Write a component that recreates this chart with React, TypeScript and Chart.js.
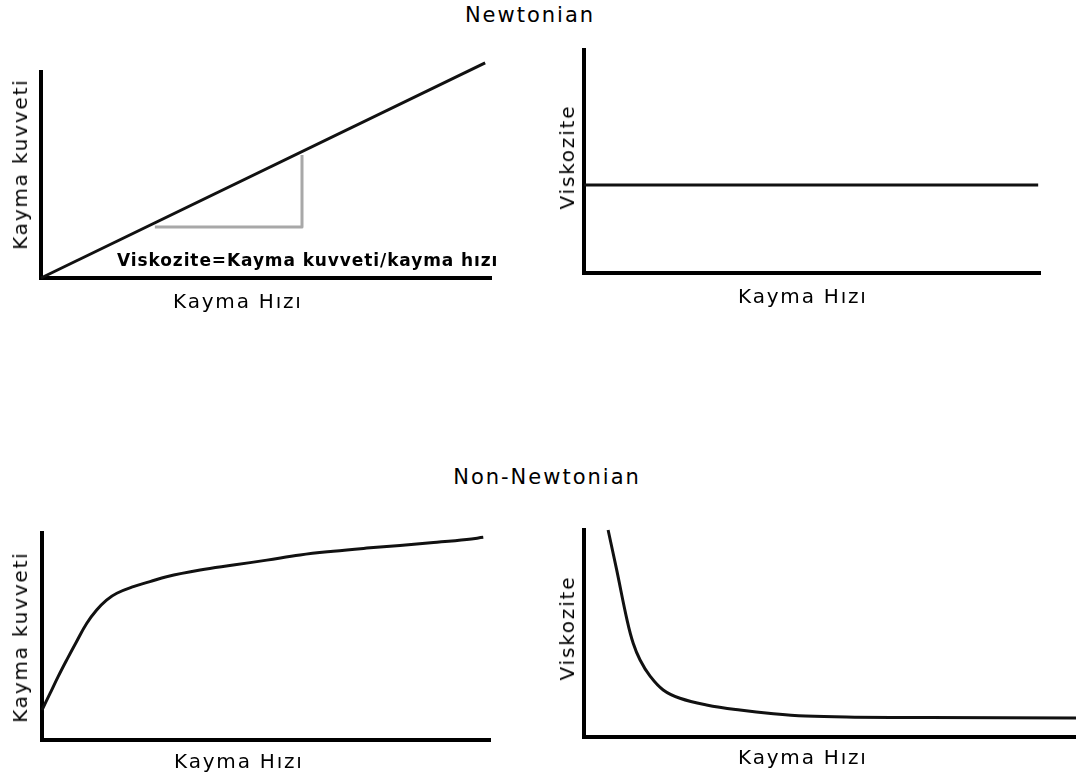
import React, { useEffect, useRef } from 'react';
import { Chart, registerables } from 'chart.js';

Chart.register(...registerables);

// ---------- text ----------
const sectionTitles = ['Newtonian', 'Non-Newtonian'];
const xAxisLabel = 'Kayma Hızı';
const stressLabel = 'Kayma kuvveti';
const viscosityLabel = 'Viskozite';
const slopeNote = 'Viskozite=Kayma kuvveti/kayma hızı';

// ---------- data (arbitrary units, 0..100 on both axes) ----------
// Newtonian: shear stress vs shear rate (straight line)
const newtonStressX = [0, 98.7];
const newtonStressY = [0, 104.4];
// slope triangle under the line
const slopeTriangleX = [25.3, 58, 58];
const slopeTriangleY = [24.8, 24.8, 59.7];
// Newtonian: viscosity vs shear rate (constant)
const newtonViscX = [0, 99.6];
const newtonViscY = [39.5, 39.5];
// Non-Newtonian: shear stress vs shear rate
const nonNewtonStressX = [0, 1.8, 3.6, 5.5, 7.7, 10.0, 12.2, 14.4, 16.7, 20.4, 24.1, 27.8, 35.3, 42.7, 50.2, 57.6, 65.0, 72.5, 79.9, 87.4, 94.8, 98.5];
const nonNewtonStressY = [14.5, 22.5, 30.6, 38.6, 47.5, 56.4, 62.8, 67.6, 70.9, 74.1, 76.5, 78.9, 82.1, 84.5, 86.9, 89.4, 91.2, 92.7, 94.0, 95.4, 96.9, 97.9];
// Non-Newtonian: viscosity vs shear rate
const nonNewtonViscX = [4.9, 6.6, 8.8, 10.0, 11.4, 13.4, 16.1, 19.5, 24.9, 31.7, 38.5, 45.0, 55.0, 70.0, 100];
const nonNewtonViscY = [100, 81.2, 56.0, 45.3, 37.2, 29.5, 22.7, 18.7, 15.5, 13.0, 11.2, 10.1, 9.6, 9.4, 9.2];

const FONT = '"DejaVu Sans", Verdana, sans-serif';

type Series = { xs: number[]; ys: number[]; color: string; width: number; smooth?: boolean };
type Area = { l: number; t: number; r: number; b: number };

const axisOpts = () => ({
  type: 'linear' as const,
  min: 0,
  max: 100,
  display: true,
  grid: { display: false, drawTicks: false },
  ticks: { display: false },
  border: { display: true, color: '#000', width: 4 },
  title: { display: false },
});

function MiniChart({ area, series }: { area: Area; series: Series[] }) {
  const ref = useRef<HTMLCanvasElement>(null);
  const M = 14;
  const w = area.r - area.l + 2 * M;
  const h = area.b - area.t + 2 * M;
  useEffect(() => {
    const chart = new Chart(ref.current!, {
      type: 'line',
      data: {
        datasets: series.map((s) => ({
          data: s.xs.map((x, i) => ({ x, y: s.ys[i] })),
          borderColor: s.color,
          borderWidth: s.width,
          pointRadius: 0,
          fill: false,
          clip: false as any,
          tension: s.smooth ? 0.4 : 0,
          borderCapStyle: 'butt',
          borderJoinStyle: 'round',
        })) as any,
      },
      options: {
        responsive: false,
        animation: false,
        events: [],
        layout: { padding: M },
        plugins: { legend: { display: false }, tooltip: { enabled: false }, title: { display: false } },
        scales: { x: axisOpts(), y: axisOpts() } as any,
      },
    });
    return () => chart.destroy();
  }, []);
  return (
    <canvas
      ref={ref}
      width={w}
      height={h}
      style={{ position: 'absolute', left: area.l - M, top: area.t - M, width: w, height: h }}
    />
  );
}

function Label({
  text, x, y, size, ls, rotate = false, bold = false, left = false,
}: { text: string; x: number; y: number; size: number; ls: number; rotate?: boolean; bold?: boolean; left?: boolean }) {
  return (
    <div
      style={{
        position: 'absolute',
        left: x,
        top: y,
        transform: left ? 'translateY(-50%)' : `translate(-50%,-50%)${rotate ? ' rotate(-90deg)' : ''}`,
        fontFamily: FONT,
        fontSize: size,
        fontWeight: bold ? 'bold' : 'normal',
        letterSpacing: ls,
        paddingLeft: left ? 0 : ls,
        lineHeight: 1,
        whiteSpace: 'nowrap',
        color: '#000',
      }}
    >
      {text}
    </div>
  );
}

export default function App() {
  useEffect(() => {
    document.body.style.margin = '0';
  }, []);
  const black = '#111';
  return (
    <div style={{ position: 'fixed', left: 0, top: 0, width: 1076, height: 780, overflow: 'hidden', background: '#fff' }}>
      <Label text={sectionTitles[0]} x={529} y={15} size={21} ls={2} />
      <Label text={sectionTitles[1]} x={546} y={477} size={21} ls={2} />

      {/* Top-left: Newtonian shear stress */}
      <MiniChart
        area={{ l: 41, t: 72, r: 491, b: 278 }}
        series={[
          { xs: slopeTriangleX, ys: slopeTriangleY, color: '#a8a8a8', width: 3 },
          { xs: newtonStressX, ys: newtonStressY, color: black, width: 3 },
        ]}
      />
      <Label text={stressLabel} x={20} y={165} size={20} ls={1.8} rotate />
      <Label text={xAxisLabel} x={237} y={301} size={20} ls={1.8} />
      <Label text={slopeNote} x={117} y={260} size={17} ls={0.9} bold left />

      {/* Top-right: Newtonian viscosity */}
      <MiniChart
        area={{ l: 584, t: 50, r: 1040, b: 273 }}
        series={[{ xs: newtonViscX, ys: newtonViscY, color: black, width: 3 }]}
      />
      <Label text={viscosityLabel} x={567} y={158} size={20} ls={1.8} rotate />
      <Label text={xAxisLabel} x={802} y={296} size={20} ls={1.8} />

      {/* Bottom-left: Non-Newtonian shear stress */}
      <MiniChart
        area={{ l: 42, t: 533, r: 490, b: 740 }}
        series={[{ xs: nonNewtonStressX, ys: nonNewtonStressY, color: black, width: 3, smooth: true }]}
      />
      <Label text={stressLabel} x={20} y={638} size={20} ls={1.8} rotate />
      <Label text={xAxisLabel} x={238} y={761} size={20} ls={1.8} />

      {/* Bottom-right: Non-Newtonian viscosity */}
      <MiniChart
        area={{ l: 584, t: 530, r: 1076, b: 737 }}
        series={[{ xs: nonNewtonViscX, ys: nonNewtonViscY, color: black, width: 3, smooth: true }]}
      />
      <Label text={viscosityLabel} x={567} y={629} size={20} ls={1.8} rotate />
      <Label text={xAxisLabel} x={802} y={757} size={20} ls={1.8} />
    </div>
  );
}
